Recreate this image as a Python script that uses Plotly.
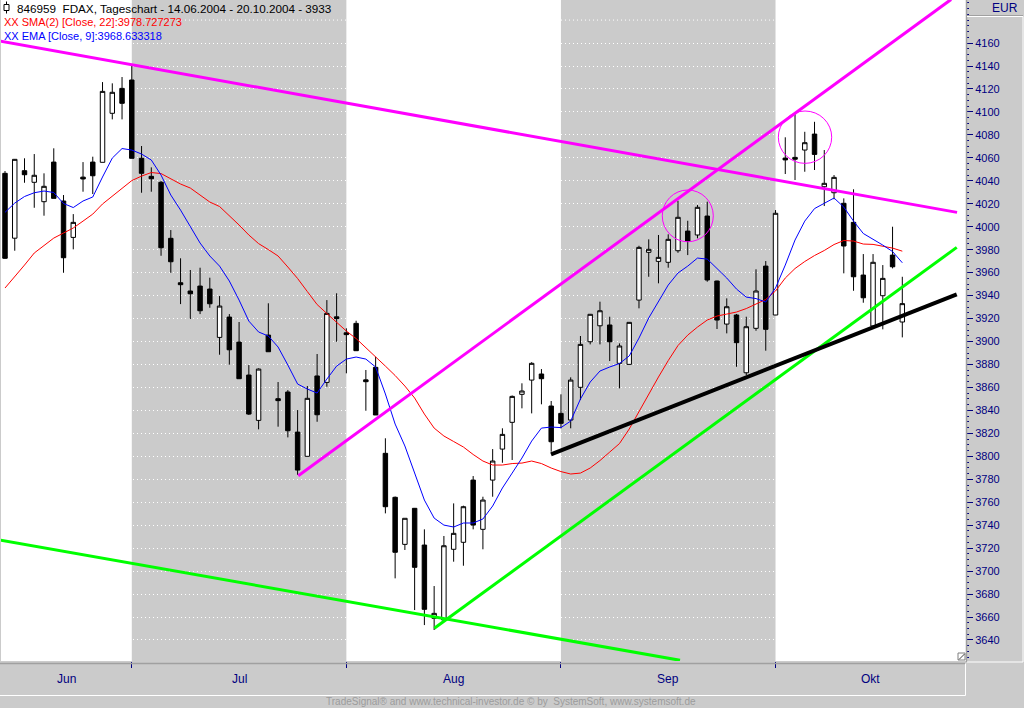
"""
FDAX daily candles 14.06.2004 - 20.10.2004 with SMA(22), EMA(9) and drawn trend lines.
"""

import plotly.graph_objects as go

# one bar per trading day, bar 0 = 14.06.2004, bar 92 = 20.10.2004
opens = [4046.5, 3990.0, 4048.8, 4038.7, 4021.8, 4056.3, 4022.4, 3990.7, 4043.2, 4056.3,
         4056.1, 4098.8, 4120.5, 4127.8, 4059.6, 4043.9, 4038.7, 3989.9, 3951.2, 3944.0,
         3948.3, 3945.7, 3903.6, 3921.3, 3899.5, 3870.8, 3831.3, 3905.6, 3850.2, 3856.0,
         3821.1, 3800.0, 3870.0, 3864.4, 3921.5, 3907.6, 3915.8, 3866.6, 3877.5, 3802.6,
         3764.3, 3723.3, 3754.7, 3722.7, 3658.9, 3657.4, 3719.0, 3725.1, 3779.3, 3736.4,
         3779.3, 3806.3, 3829.6, 3854.0, 3866.4, 3871.7, 3843.8, 3837.4, 3831.6, 3860.1,
         3899.8, 3913.7, 3914.4, 3881.0, 3880.1, 3936.1, 3977.7, 3969.8, 3969.0, 3979.1,
         3996.2, 3992.8, 4009.3, 3952.7, 3915.2, 3923.1, 3872.8, 3911.5, 3965.7, 3923.1,
         4059.8, 4060.4, 4066.8, 4080.7, 4034.8, 4029.6, 4020.4, 4003.8, 3957.9, 3913.5,
         3939.9, 3975.3, 3917.0]
highs = [4048.5, 4059.0, 4059.6, 4063.3, 4046.5, 4068.3, 4027.6, 4011.0, 4056.3, 4061.0,
         4126.0, 4124.9, 4130.4, 4140.8, 4070.3, 4051.7, 4040.0, 3997.1, 3972.5, 3962.3,
         3964.3, 3955.6, 3939.6, 3923.9, 3917.0, 3879.5, 3876.6, 3933.3, 3864.7, 3857.7,
         3840.3, 3861.2, 3889.1, 3936.1, 3942.0, 3911.5, 3918.1, 3875.2, 3886.7, 3815.7,
         3765.0, 3746.0, 3755.0, 3736.4, 3687.0, 3730.6, 3759.0, 3757.0, 3782.8, 3764.8,
         3806.3, 3824.4, 3853.0, 3863.6, 3882.0, 3876.0, 3848.2, 3854.0, 3868.8, 3904.8,
         3924.0, 3934.7, 3921.6, 3898.4, 3917.0, 3983.4, 3989.0, 3992.8, 3993.4, 4022.6,
         4005.2, 4018.9, 4021.8, 3953.0, 3937.6, 3924.0, 3921.6, 3962.9, 3970.1, 4014.5,
         4077.9, 4099.3, 4082.7, 4091.4, 4066.8, 4045.0, 4024.7, 4032.6, 3976.2, 3976.2,
         3966.6, 4000.0, 3956.4]
lows = [3972.0, 3979.1, 4038.3, 4016.5, 4009.6, 4024.7, 3959.9, 3980.3, 4030.5, 4028.5,
        4056.1, 4093.5, 4093.5, 4059.6, 4029.6, 4030.5, 3974.7, 3959.9, 3932.6, 3919.6,
        3923.9, 3929.4, 3888.5, 3879.8, 3867.6, 3836.0, 3823.5, 3891.1, 3825.8, 3816.5,
        3783.7, 3800.0, 3830.1, 3860.6, 3899.8, 3872.3, 3892.0, 3839.7, 3836.0, 3750.3,
        3693.7, 3718.4, 3666.1, 3653.0, 3648.7, 3656.0, 3708.2, 3704.7, 3736.4, 3719.0,
        3764.8, 3794.4, 3796.8, 3841.8, 3837.4, 3845.3, 3804.0, 3824.4, 3824.4, 3849.0,
        3897.5, 3897.5, 3883.0, 3859.2, 3880.0, 3928.9, 3956.4, 3950.7, 3964.3, 3977.3,
        3975.3, 3989.9, 3952.1, 3910.9, 3907.1, 3878.0, 3870.8, 3909.4, 3892.0, 3923.0,
        4045.9, 4040.7, 4047.9, 4049.4, 4018.0, 4023.9, 3959.4, 3944.2, 3933.8, 3913.0,
        3910.6, 3963.7, 3903.6]
closes = [3972.5, 4058.7, 4045.3, 4044.8, 4035.2, 4024.7, 3973.0, 4003.8, 4041.6, 4044.4,
          4117.9, 4117.1, 4107.5, 4059.6, 4046.5, 4041.8, 3981.7, 3969.5, 3949.5, 3941.6,
          3926.8, 3932.9, 3930.9, 3892.8, 3867.6, 3836.8, 3876.0, 3891.1, 3848.5, 3822.3,
          3788.0, 3850.5, 3836.2, 3924.5, 3920.0, 3906.0, 3892.0, 3865.0, 3836.0, 3756.1,
          3716.4, 3746.0, 3703.3, 3666.7, 3663.2, 3722.1, 3732.9, 3756.1, 3740.1, 3761.9,
          3795.9, 3819.1, 3852.2, 3856.9, 3881.0, 3867.6, 3812.7, 3828.7, 3866.4, 3897.5,
          3923.7, 3926.8, 3899.8, 3896.1, 3916.7, 3982.0, 3980.3, 3973.3, 3989.0, 4008.2,
          3987.5, 4016.9, 3953.6, 3918.7, 3930.3, 3899.0, 3912.9, 3944.0, 3910.6, 4011.7,
          4058.2, 4058.8, 4073.2, 4063.0, 4037.8, 4043.0, 3983.2, 3956.4, 3938.1, 3969.0,
          3955.0, 3965.1, 3933.0]

sma22 = [3946.6, 3956.2, 3966.6, 3977.1, 3984.0, 3990.1, 3994.5, 3998.9, 4004.9, 4011.0,
         4019.8, 4026.7, 4033.7, 4040.2, 4044.1, 4047.2, 4046.3, 4042.0, 4037.2, 4033.7,
         4027.6, 4021.5, 4017.6, 4009.7, 4001.5, 3992.8, 3985.3, 3980.1, 3974.5, 3964.9,
         3954.9, 3943.5, 3932.2, 3924.4, 3916.5, 3909.1, 3902.6, 3894.3, 3886.9, 3878.6,
         3870.4, 3861.2, 3850.8, 3836.8, 3824.6, 3817.7, 3812.9, 3808.1, 3801.6, 3795.9,
         3792.4, 3792.4, 3793.7, 3794.1, 3795.9, 3793.7, 3789.8, 3786.7, 3784.6, 3785.4,
         3789.8, 3796.3, 3803.7, 3811.1, 3823.8, 3839.0, 3854.7, 3869.1, 3883.4, 3896.5,
         3905.6, 3912.6, 3918.7, 3922.2, 3923.9, 3925.7, 3928.7, 3932.6, 3936.6, 3944.0,
         3955.3, 3963.6, 3969.7, 3974.9, 3979.3, 3984.5, 3988.0, 3987.5, 3984.9, 3984.6,
         3983.2, 3981.4, 3978.7]
ema9 = [4012.5, 4020.6, 4026.3, 4029.6, 4031.1, 4029.8, 4020.2, 4016.7, 4022.4, 4025.9,
        4043.3, 4059.8, 4068.1, 4066.8, 4063.3, 4058.1, 4045.0, 4027.6, 4014.5, 4000.6,
        3985.8, 3974.5, 3965.7, 3952.7, 3936.1, 3917.8, 3908.3, 3904.8, 3895.2, 3879.5,
        3863.0, 3858.6, 3855.1, 3867.3, 3878.6, 3884.7, 3886.5, 3884.7, 3877.8, 3854.3,
        3828.1, 3809.0, 3786.3, 3761.9, 3746.2, 3740.1, 3738.4, 3741.9, 3741.9, 3745.4,
        3756.7, 3772.4, 3785.4, 3798.5, 3813.3, 3824.6, 3825.5, 3825.0, 3830.7, 3849.9,
        3864.7, 3874.3, 3877.8, 3880.8, 3887.4, 3903.0, 3920.5, 3934.4, 3949.2, 3959.7,
        3965.7, 3972.7, 3971.8, 3963.6, 3955.3, 3945.7, 3938.7, 3937.4, 3934.4, 3946.6,
        3966.6, 3988.4, 4004.9, 4015.8, 4020.6, 4025.0, 4017.1, 4004.9, 3994.1, 3989.3,
        3984.0, 3978.4, 3968.6]

month_names = ["Jun", "Jul", "Aug", "Sep", "Okt"]
month_first_bar = [0, 13, 35, 57, 79]
shaded_months = ["Jul", "Sep"]

y_ticks = [3640, 3660, 3680, 3700, 3720, 3740, 3760, 3780, 3800, 3820, 3840, 3860, 3880, 3900,
           3920, 3940, 3960, 3980, 4000, 4020, 4040, 4060, 4080, 4100, 4120, 4140, 4160]
# grid level under the EUR header, drawn without a label
extra_grid = [4180]

# hand drawn trend lines: [start, end] as (bar, price)
magenta_down_x = [-0.51, 97.61]
magenta_down_y = [4161.7, 4012.5]
magenta_up_x = [30.07, 97.0]
magenta_up_y = [3783.1, 4198.0]
green_down_x = [-0.51, 69.21]
green_down_y = [3727.1, 3622.3]
green_up_x = [44.02, 97.58]
green_up_y = [3650.2, 3982.0]
black_x = [55.98, 97.58]
black_y = [3801.7, 3941.1]

# marked tops: bar span and price span of the circles
circle_x0 = [67.39, 79.29]
circle_x1 = [72.62, 84.76]
circle_y0 = [3986.9, 4055.2]
circle_y1 = [4032.0, 4100.8]

X_MIN, X_MAX = -0.41, 98.53
Y_MIN, Y_MAX = 3621.7, 4197.5

GRAY = '#cbcbcb'
NAVY = '#000080'
FONT = 'Liberation Sans, Arial, sans-serif'
GRID_DASH = '1px,3px'

# plot area in pixels, used for the window decorations around it
PLOT_L, PLOT_R, PLOT_T, PLOT_B = 1, 966, 0, 661


def paper_x(p):
    return (p - PLOT_L) / (PLOT_R - PLOT_L)


def paper_y(p):
    return (PLOT_B - p) / (PLOT_B - PLOT_T)


bars = list(range(len(closes)))

fig = go.Figure()

fig.add_trace(go.Candlestick(
    x=bars, open=opens, high=highs, low=lows, close=closes,
    increasing=dict(line=dict(color='black', width=1), fillcolor='white'),
    decreasing=dict(line=dict(color='black', width=1), fillcolor='black'),
    whiskerwidth=0, hoverinfo='skip', showlegend=False
))

fig.add_trace(go.Scatter(x=bars, y=sma22, mode='lines',
                         line=dict(color='#ff0000', width=1), showlegend=False))
fig.add_trace(go.Scatter(x=bars, y=ema9, mode='lines',
                         line=dict(color='#0000ff', width=1), showlegend=False))

for xs, ys, color, width in [
    (magenta_down_x, magenta_down_y, '#ff00ff', 3),
    (magenta_up_x, magenta_up_y, '#ff00ff', 3),
    (green_down_x, green_down_y, '#00ff00', 3),
    (green_up_x, green_up_y, '#00ff00', 3),
    (black_x, black_y, 'black', 4),
]:
    fig.add_trace(go.Scatter(x=xs, y=ys, mode='lines',
                             line=dict(color=color, width=width), showlegend=False))

shapes = []

# grey background for every second month
for name in shaded_months:
    i = month_names.index(name)
    shapes.append(dict(type='rect', xref='x', yref='paper', layer='below',
                       x0=month_first_bar[i], x1=month_first_bar[i + 1], y0=0, y1=1,
                       fillcolor=GRAY, line=dict(width=0)))

for level in extra_grid:
    shapes.append(dict(type='line', xref='paper', yref='y', layer='below',
                       x0=0, x1=1, y0=level, y1=level,
                       line=dict(color='white', width=1, dash=GRID_DASH)))

for x0, x1, y0, y1 in zip(circle_x0, circle_x1, circle_y0, circle_y1):
    shapes.append(dict(type='circle', xref='x', yref='y', x0=x0, x1=x1, y0=y0, y1=y1,
                       line=dict(color='#ff00ff', width=1)))


def pline(x0, y0, x1, y1, color, width=1):
    shapes.append(dict(type='line', xref='paper', yref='paper',
                       x0=paper_x(x0), x1=paper_x(x1), y0=paper_y(y0), y1=paper_y(y1),
                       line=dict(color=color, width=width)))


# panel borders
pline(0, 663.5, 965.5, 663.5, '#a0a0a0', 1.5)
pline(0, 695.5, 965.5, 695.5, 'white')
pline(965.5, 663.5, 965.5, 695.5, 'white')
pline(966.5, 0, 966.5, 662, '#a0a0a0', 1.5)
pline(967, 15.5, 1023, 15.5, '#a0a0a0')
pline(967, 16.5, 1023, 16.5, 'white')
pline(967, 662, 1023, 662, 'white')
pline(1023, 16.5, 1023, 662, 'white')

# resize grip in the plot corner
shapes.append(dict(type='rect', xref='paper', yref='paper',
                   x0=paper_x(958), x1=paper_x(965), y0=paper_y(660), y1=paper_y(653),
                   fillcolor='white', line=dict(color='#808080', width=1)))
pline(959, 659.5, 964.5, 654, '#404040')

# title icon (small candle)
shapes.append(dict(type='rect', xref='paper', yref='paper',
                   x0=paper_x(4), x1=paper_x(9), y0=paper_y(10.5), y1=paper_y(4.5),
                   fillcolor='white', line=dict(color='black', width=1)))
pline(6.5, 1.5, 6.5, 4.5, 'black')
pline(6.5, 10.5, 6.5, 13.5, 'black')

annotations = []


def text(xp, yp, s, color, size=11, anchor='left'):
    annotations.append(dict(xref='paper', yref='paper', x=paper_x(xp), y=paper_y(yp),
                            text=s, showarrow=False, xanchor=anchor, yanchor='middle',
                            font=dict(family=FONT, size=size, color=color)))


text(15, 8, '846959  FDAX, Tageschart - 14.06.2004 - 20.10.2004 - 3933', 'black', 11.7)
text(2, 22, 'XX SMA(2) [Close, 22]:3978.727273', '#ff0000', 11)
text(2, 36, 'XX EMA [Close, 9]:3968.633318', '#0000ff', 11)
text(1020, 8, 'EUR', NAVY, 12, anchor='right')
text(511, 701, 'TradeSignal® and www.technical-investor.de © by  SystemSoft, www.systemsoft.de',
     '#9c9c9c', 10, anchor='center')

# month names centred in their month
edges = month_first_bar[1:] + [X_MAX]
for i, name in enumerate(month_names):
    left = X_MIN if i == 0 else month_first_bar[i]
    annotations.append(dict(xref='x', yref='paper', x=(left + edges[i]) / 2, y=paper_y(679),
                            text=name, showarrow=False, xanchor='center', yanchor='middle',
                            font=dict(family=FONT, size=12, color=NAVY)))

fig.update_layout(
    width=1024, height=708,
    margin=dict(l=PLOT_L, r=1024 - PLOT_R, t=PLOT_T, b=708 - PLOT_B, autoexpand=False),
    paper_bgcolor=GRAY, plot_bgcolor='white',
    showlegend=False, boxgap=0.35,
    shapes=shapes, annotations=annotations,
    xaxis=dict(range=[X_MIN, X_MAX], rangeslider=dict(visible=False), showgrid=False,
               zeroline=False, showline=False, showticklabels=False,
               tickmode='array', tickvals=month_first_bar[1:], ticks='outside',
               ticklen=6, tickcolor=NAVY, tickwidth=1),
    yaxis=dict(range=[Y_MIN, Y_MAX], side='right', zeroline=False, showline=False,
               tickmode='array', tickvals=y_ticks, ticks='outside', ticklen=6,
               tickcolor=NAVY, tickwidth=1,
               tickfont=dict(family=FONT, size=11, color=NAVY),
               showgrid=True, gridcolor='white', gridwidth=1, griddash=GRID_DASH,
               minor=dict(dtick=5, tick0=0, ticks='outside', ticklen=2, tickcolor=NAVY,
                          showgrid=False)),
)

# the page has a default 8px body margin; drop it so the chart fills the window
fig.write_html("out.html", config={'displayModeBar': False},
               post_script="document.body.style.margin = '0';")
